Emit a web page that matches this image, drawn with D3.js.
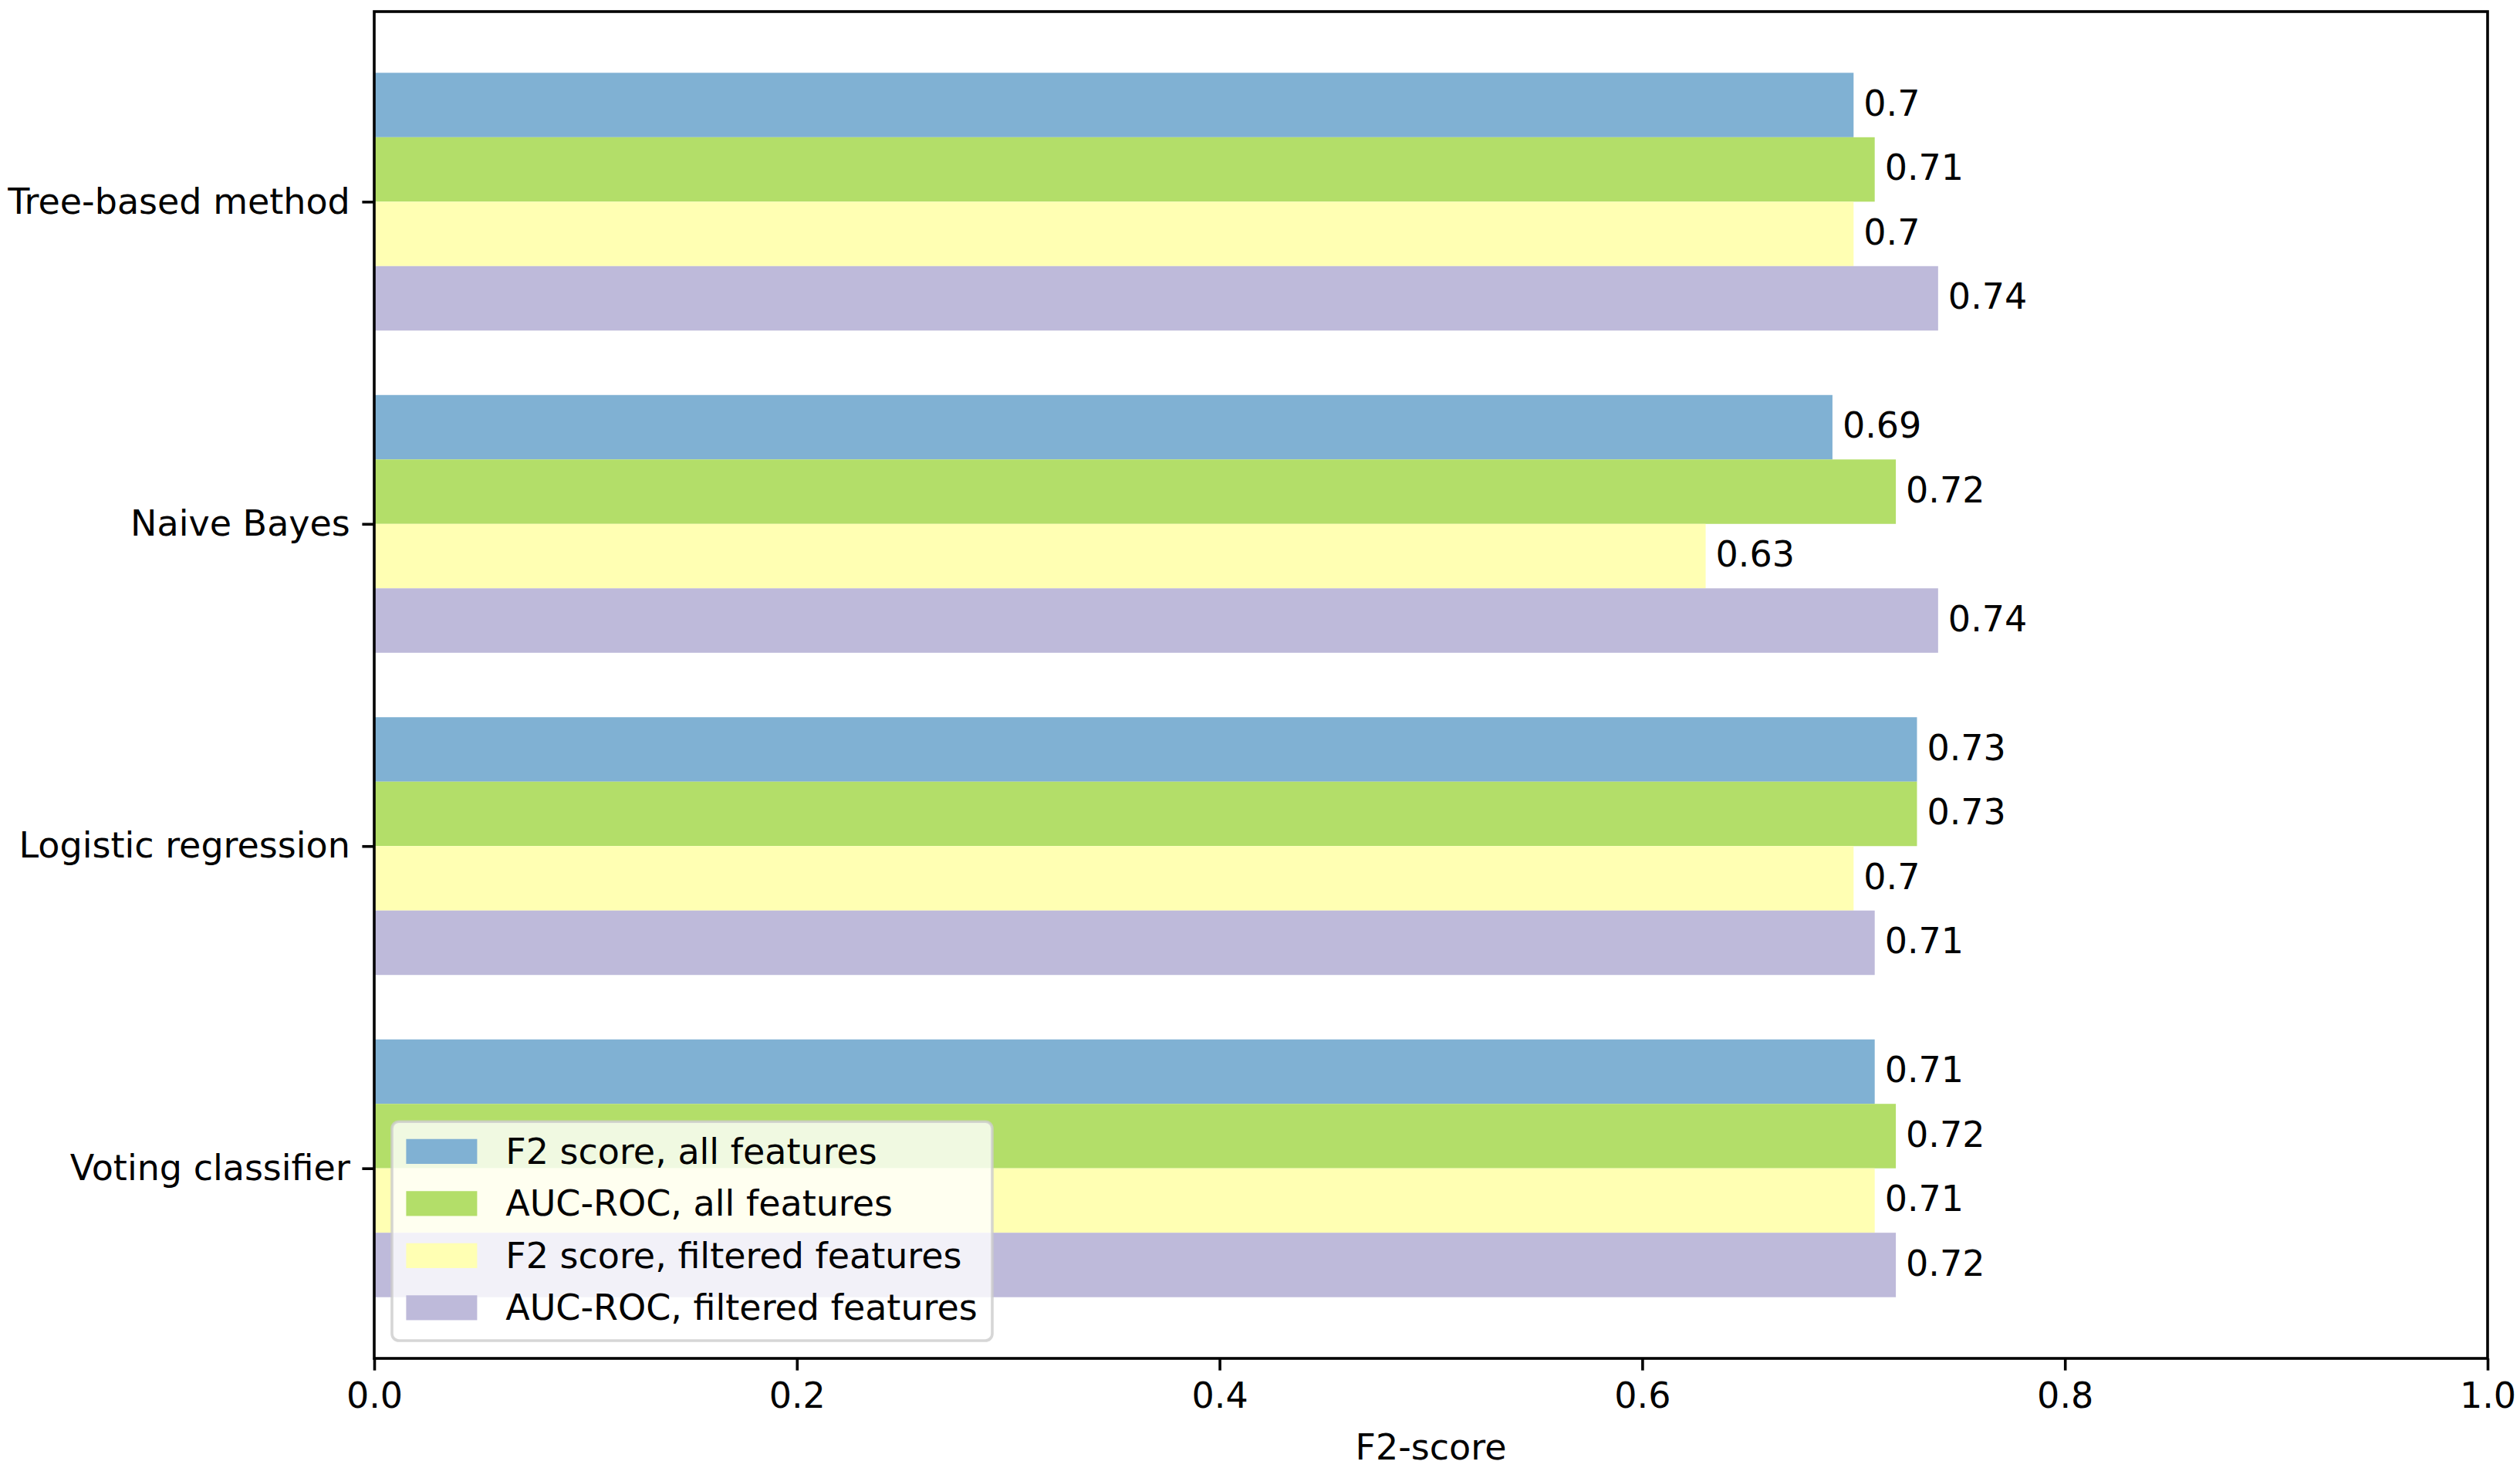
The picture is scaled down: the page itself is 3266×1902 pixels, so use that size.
<!DOCTYPE html>
<html>
<head>
<meta charset="utf-8">
<script src="https://cdn.jsdelivr.net/npm/d3@7"></script>
<style>
  body { margin: 0; background: #fff; }
  svg { display: block; font-family: "DejaVu Sans", sans-serif; }
</style>
</head>
<body>
<div id="chart"></div>
<script>
// Dados do gráfico //
const categories = ["Tree-based method", "Naive Bayes", "Logistic regression", "Voting classifier"]
const seriesNames = ["F2 score, all features", "AUC-ROC, all features", "F2 score, filtered features", "AUC-ROC, filtered features"]
const f2All = [0.70, 0.69, 0.73, 0.71]
const aucAll = [0.71, 0.72, 0.73, 0.72]
const f2Filtered = [0.70, 0.63, 0.70, 0.71]
const aucFiltered = [0.74, 0.74, 0.71, 0.72]
const xTicks = [0, 0.2, 0.4, 0.6, 0.8, 1.0]
const xLabel = "F2-score"

const colors = ["#80b1d3", "#b3de69", "#ffffb3", "#bebada"]

var groupedBars = {
  // Renderiza o gráfico //
  render: function(node){
    const series = [f2All, aucAll, f2Filtered, aucFiltered]
    const width = 3266, height = 1902
    const margin = { top: 15, right: 42, bottom: 142, left: 485 }
    const fs = 46            // 10pt a ~330dpi
    const lw = 3.6           // 0.8pt
    const tickLen = 15.6     // 3.5pt
    const barH = 0.2

    const svg = d3.select(node).append("svg")
      .attr("width", width)
      .attr("height", height)

    const x = d3.scaleLinear().domain([0, 1]).range([margin.left, width - margin.right])

    // margem de 5% no eixo das categorias, igual ao matplotlib
    const lo = -2 * barH, hi = categories.length - 1 + 2 * barH
    const pad = (hi - lo) * 0.05
    const y = d3.scaleLinear().domain([lo - pad, hi + pad]).range([margin.top, height - margin.bottom])

    // Barras //
    series.forEach((vals, j) => {
      svg.append("g").selectAll("rect")
        .data(vals)
        .enter()
        .append("rect")
        .attr("x", x(0))
        .attr("y", (d, i) => y(i - 2 * barH + j * barH))
        .attr("width", d => x(d) - x(0))
        .attr("height", (d, i) => y(i - 2 * barH + (j + 1) * barH) - y(i - 2 * barH + j * barH))
        .attr("fill", colors[j])

      svg.append("g").selectAll("text")
        .data(vals)
        .enter()
        .append("text")
        .attr("x", d => x(d) + 13)
        .attr("y", (d, i) => y(i - 2 * barH + (j + 0.5) * barH))
        .attr("dy", "0.3em")
        .attr("font-size", fs)
        .attr("fill", "#000")
        .text(d => String(+d.toFixed(2)))
    })

    // Eixos //
    const xAxis = svg.append("g")
      .attr("transform", "translate(0," + y.range()[1] + ")")
      .call(d3.axisBottom(x).tickValues(xTicks).tickFormat(d3.format(".1f")).tickSize(tickLen).tickPadding(tickLen))
    xAxis.select(".domain").remove()
    xAxis.selectAll("line").attr("stroke", "#000").attr("stroke-width", lw)
    xAxis.selectAll("text").attr("font-size", fs).attr("font-family", "DejaVu Sans").attr("fill", "#000")

    const yAxis = svg.append("g")
      .attr("transform", "translate(" + x(0) + ",0)")
      .call(d3.axisLeft(y).tickValues(d3.range(categories.length)).tickFormat(i => categories[i]).tickSize(tickLen).tickPadding(tickLen))
    yAxis.select(".domain").remove()
    yAxis.selectAll("line").attr("stroke", "#000").attr("stroke-width", lw)
    yAxis.selectAll("text").attr("font-size", fs).attr("font-family", "DejaVu Sans").attr("fill", "#000")

    svg.append("text")
      .attr("x", (x.range()[0] + x.range()[1]) / 2)
      .attr("y", 1891)
      .attr("text-anchor", "middle")
      .attr("font-size", fs)
      .text(xLabel)

    // Moldura //
    svg.append("rect")
      .attr("x", x.range()[0])
      .attr("y", y.range()[0])
      .attr("width", x.range()[1] - x.range()[0])
      .attr("height", y.range()[1] - y.range()[0])
      .attr("fill", "none")
      .attr("stroke", "#000")
      .attr("stroke-width", lw)

    // Legenda (lower left) //
    const borderAx = 0.5 * fs, borderPad = 0.4 * fs, labelSp = 0.5 * fs
    const handleLen = 2.0 * fs, handleH = 0.7 * fs, textPad = 0.8 * fs
    const rowH = 44.5
    const legW = 778
    const legH = 2 * borderPad + seriesNames.length * rowH + (seriesNames.length - 1) * labelSp
    const lx = x.range()[0] + borderAx
    const ly = y.range()[1] - borderAx - legH

    const legend = svg.append("g").attr("transform", "translate(" + lx + "," + ly + ")")
    legend.append("rect")
      .attr("width", legW)
      .attr("height", legH)
      .attr("rx", 9)
      .attr("fill", "#fff")
      .attr("fill-opacity", 0.8)
      .attr("stroke", "#cccccc")
      .attr("stroke-opacity", 0.8)
      .attr("stroke-width", lw)

    seriesNames.forEach((name, j) => {
      const cy = borderPad + rowH / 2 + j * (rowH + labelSp) - 2
      legend.append("rect")
        .attr("x", borderPad)
        .attr("y", cy - handleH / 2)
        .attr("width", handleLen)
        .attr("height", handleH)
        .attr("fill", colors[j])
      legend.append("text")
        .attr("x", borderPad + handleLen + textPad)
        .attr("y", cy)
        .attr("dy", "0.35em")
        .attr("font-size", fs)
        .text(name)
    })
  }
}

// Chama o Gráfico //
groupedBars.render("#chart")
</script>
</body>
</html>
